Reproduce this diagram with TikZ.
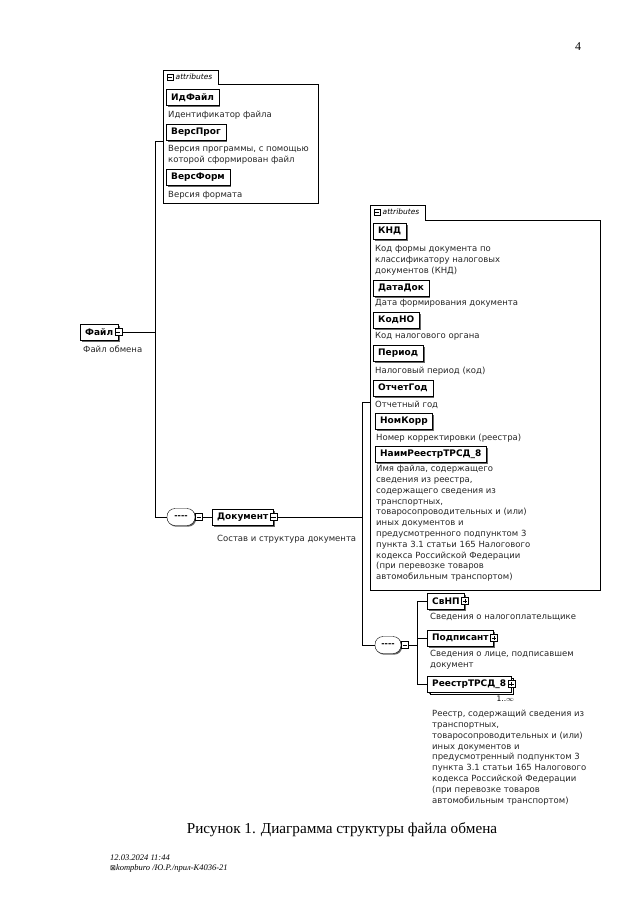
\documentclass[tikz,border=0pt]{standalone}
\usepackage{fontspec}
\setmainfont{Liberation Serif}
\newfontfamily\diag{DejaVu Sans}
\usetikzlibrary{positioning,shadows,calc}

\tikzset{
  elem/.style={draw, fill=white, anchor=north west, inner xsep=5pt, inner ysep=0pt,
    minimum height=16pt, font=\diag\bfseries\fontsize{9}{10}\selectfont,
    drop shadow={shadow xshift=1.6pt, shadow yshift=-1.6pt, fill=black!60, opacity=1}},
  desc/.style={anchor=north west, inner sep=0pt, align=left, text=black!85,
    font=\diag\fontsize{8.5}{10.8}\selectfont},
  grp/.style={draw, line width=0.7pt},
  conn/.style={line width=0.7pt},
  seqbox/.style={draw, fill=white, rounded corners=8pt, minimum width=28pt, minimum height=17pt,
    inner sep=0pt, font=\diag\bfseries\fontsize{8}{8}\selectfont,
    drop shadow={shadow xshift=1.2pt, shadow yshift=-1.2pt, fill=black!60, opacity=1}},
  collapse/.style={draw, fill=white, minimum size=7pt, inner sep=0pt,
    path picture={\draw ([xshift=1.3pt]path picture bounding box.west) -- ([xshift=-1.3pt]path picture bounding box.east);}},
  expand/.style={collapse,
    path picture={\draw ([xshift=1.3pt]path picture bounding box.west) -- ([xshift=-1.3pt]path picture bounding box.east);
                  \draw ([yshift=-1.3pt]path picture bounding box.north) -- ([yshift=1.3pt]path picture bounding box.south);}},
  tabtext/.style={anchor=west, inner sep=0pt, font=\diag\itshape\fontsize{7.5}{8}\selectfont},
}

\begin{document}
\begin{tikzpicture}[x=1pt, y=-1pt]
    \useasboundingbox[fill=white] (0,0) rectangle (640,914);

    % page number
    \node[font=\fontsize{12}{14}\selectfont] (pagenum) at (578,47) {4};

    % ============================================================
    % root element
    % ============================================================
    \node[elem, anchor=west] (file) at (80,332) {Файл\hspace{4pt}};
    \node[collapse] (file-ic) at (file.east) {};
    \node[desc] (file-d) at (83,346) {Файл обмена};

    \coordinate (j1) at (155,141);
    \coordinate (j2) at (155,517);
    \draw[conn] (file-ic.east) -- (file-ic.east -| j1);

    % ============================================================
    % attributes of the file
    % ============================================================
    \draw[grp] (163,70) -- (218,70) -- (218,84) -- (318,84) -- (318,203) -- (163,203) -- cycle;
    \node[collapse, minimum size=6pt] (grp1-ic) at (170,77) {};
    \node[tabtext] (grp1-t) at (175.5,77) {attributes};
    \coordinate (grp1-in) at (163,141);

    \node[elem] (idfile) at (166,89) {ИдФайл};
    \node[desc] (idfile-d) at (168,111) {Идентификатор файла};
    \node[elem] (versprog) at (166,124) {ВерсПрог};
    \node[desc] (versprog-d) at (168,145) {Версия программы, с помощью\\которой сформирован файл};
    \node[elem] (versform) at (166,169) {ВерсФорм};
    \node[desc] (versform-d) at (168,191) {Версия формата};

    \draw[conn] (grp1-in) -- (j1) -- (j2);

    % ============================================================
    % sequence -> Документ
    % ============================================================
    \node[seqbox] (seq1) at (181,517) {-{}-{}-{}-};
    \node[collapse, anchor=west] (seq1-ic) at (seq1.east) {};
    \draw[conn] (j2) -- (seq1.west);

    \node[elem, anchor=west] (doc) at (212,517) {Документ\hspace{4pt}};
    \node[collapse] (doc-ic) at (doc.east) {};
    \node[desc] (doc-d) at (217,535) {Состав и структура документа};
    \draw[conn] (seq1-ic.east) -- (doc.west);

    \coordinate (j3) at (362,517);
    \coordinate (j4) at (362,402);
    \coordinate (j5) at (362,645);
    \draw[conn] (doc-ic.east) -- (j3);

    % ============================================================
    % attributes of Документ
    % ============================================================
    \draw[grp] (370,205) -- (425,205) -- (425,220) -- (600,220) -- (600,590) -- (370,590) -- cycle;
    \node[collapse, minimum size=6pt] (grp2-ic) at (377,212) {};
    \node[tabtext] (grp2-t) at (382.5,212) {attributes};
    \coordinate (grp2-in) at (370,402);

    \node[elem] (knd) at (373,223) {КНД};
    \node[desc] (knd-d) at (375,245) {Код формы документа по\\классификатору налоговых\\документов (КНД)};
    \node[elem] (datadok) at (373,280) {ДатаДок};
    \node[desc] (datadok-d) at (375,299) {Дата формирования документа};
    \node[elem] (kodno) at (373,312) {КодНО};
    \node[desc] (kodno-d) at (375,332) {Код налогового органа};
    \node[elem] (period) at (373,345) {Период};
    \node[desc] (period-d) at (375,367) {Налоговый период (код)};
    \node[elem] (otchgod) at (373,380) {ОтчетГод};
    \node[desc] (otchgod-d) at (375,401) {Отчетный год};
    \node[elem] (nomkorr) at (375,413) {НомКорр};
    \node[desc] (nomkorr-d) at (376,434) {Номер корректировки (реестра)};
    \node[elem] (naim) at (375,446) {НаимРеестрТРСД\_8};
    \node[desc] (naim-d) at (376,465) {Имя файла, содержащего\\сведения из реестра,\\содержащего сведения из\\транспортных,\\товаросопроводительных и (или)\\иных документов и\\предусмотренного подпунктом 3\\пункта 3.1 статьи 165 Налогового\\кодекса Российской Федерации\\(при перевозке товаров\\автомобильным транспортом)};

    \draw[conn] (grp2-in) -- (j4) -- (j5);

    % ============================================================
    % sequence of child elements
    % ============================================================
    \node[seqbox, minimum width=26pt] (seq2) at (388,645) {-{}-{}-{}-};
    \node[collapse, anchor=west] (seq2-ic) at (seq2.east) {};
    \coordinate (b1) at (417,601);
    \coordinate (b2) at (417,684);

    \node[elem, anchor=west] (svnp) at (427,601) {СвНП\hspace{3pt}};
    \node[expand] (svnp-ic) at (svnp.east) {};
    \node[desc] (svnp-d) at (430,613) {Сведения о налогоплательщике};

    \node[elem, anchor=west] (podp) at (427,638) {Подписант\hspace{3pt}};
    \node[expand] (podp-ic) at (podp.east) {};
    \node[desc] (podp-d) at (430,650) {Сведения о лице, подписавшем\\документ};

    \node[elem, anchor=west, copy shadow={shadow xshift=2.5pt, shadow yshift=-2.5pt}] (reestr) at (427,684) {РеестрТРСД\_8\hspace{3pt}};
    \node[expand] (reestr-ic) at (reestr.east) {};
    \node[anchor=north east, inner sep=0pt, font=\diag\fontsize{7.5}{8}\selectfont] (reestr-m) at ($(reestr.south east)+(3,4)$) {1..$\infty$};
    \node[desc] (reestr-d) at (432,710) {Реестр, содержащий сведения из\\транспортных,\\товаросопроводительных и (или)\\иных документов и\\предусмотренный подпунктом 3\\пункта 3.1 статьи 165 Налогового\\кодекса Российской Федерации\\(при перевозке товаров\\автомобильным транспортом)};

    \draw[conn] (seq2.west) -- (j5);
    \draw[conn] (seq2-ic.east) -- (seq2-ic.east -| b1);
    \draw[conn] (svnp.west) -- (svnp.west -| b1) -- (reestr.west -| b1) -- (reestr.west);
    \draw[conn] (podp.west) -- (podp.west -| b1);

    % caption and footer
    \node[font=\fontsize{15.2}{17}\selectfont] (caption) at (342,830) {Рисунок 1. Диаграмма структуры файла обмена};
    \node[anchor=north west, align=left, inner sep=0pt, font=\itshape\fontsize{8.5}{10}\selectfont] (footer) at (110,855) {12.03.2024 11:44\\{\upshape\diag\fontsize{7}{7}\selectfont ⊠}kompburo /Ю.Р./прил-К4036-21};
\end{tikzpicture}
\end{document}
